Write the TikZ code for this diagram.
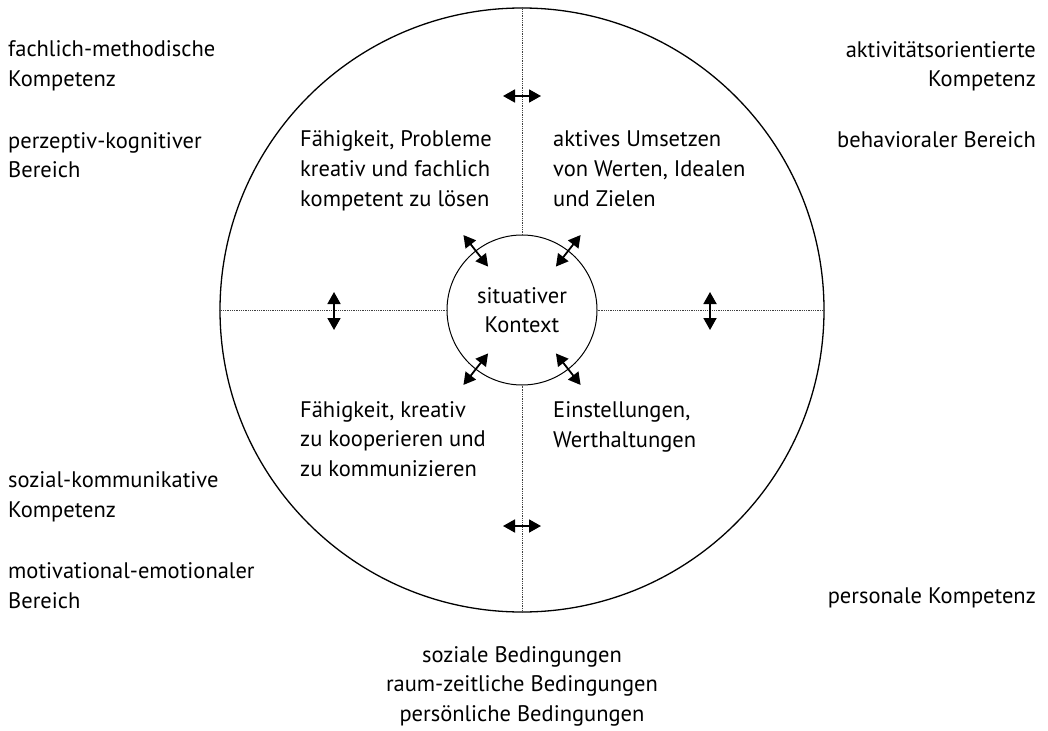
\documentclass[tikz,border=0pt]{standalone}
\usepackage{fontspec}
\setmainfont{PT Sans}
\usetikzlibrary{arrows.meta,calc}

\begin{document}
\begin{tikzpicture}
      [%%%%%%%%%%%%%%%%%%%%%%%%%%%%%%
      x=1pt,y=-1pt,
      every node/.style={font=\fontsize{22.5}{29.5}\selectfont, inner sep=0pt},
      lbl/.style={align=left, anchor=base west},
      rlbl/.style={align=right, anchor=base east},
      ring/.style={circle, draw=black},
      axis/.style={densely dotted, line width=0.8pt, black!75},
      twoway/.style={{Triangle[length=12pt,width=13pt]}-{Triangle[length=12pt,width=13pt]}, line width=1.8pt},
      ]%%%%%%%%%%%%%%%%%%%%%%%%%%%%%%

      \useasboundingbox (0,0) rectangle (1048,730);

      \node[ring, line width=1.3pt, minimum size=604pt] (rim) at (522,310){};
      \node[ring, line width=1pt, minimum size=150pt, align=center] (ctx) at (522,310){situativer\\Kontext};

      \foreach \s in {north,south,east,west}
        \draw[axis] (rim.\s) -- (ctx.\s);

      \foreach \n/\x/\y/\dx/\dy in {n/522/96/19/0, s/522/526/19/0, w/334/311/0/19, e/710/311/0/19}{
        \coordinate (\n1) at (\x-\dx,\y-\dy);
        \coordinate (\n2) at (\x+\dx,\y+\dy);
        \draw[twoway] (\n1) -- (\n2);
      }

      \foreach \a in {52,128,232,308}{
        \coordinate (in\a) at ($(ctx.center)!0.73!(ctx.\a)$);
        \coordinate (out\a) at ($(ctx.center)!1.26!(ctx.\a)$);
        \draw[twoway] (in\a) -- (out\a);
      }

      % base = last line
      \node[lbl] (fm) at (8,86.5){fachlich-methodische\\Kompetenz};
      \node[lbl] (pk) at (8,178){perzeptiv-kognitiver\\Bereich};
      \node[lbl] (sk) at (8,517){sozial-kommunikative\\Kompetenz};
      \node[lbl] (me) at (8,608){motivational-emotionaler\\Bereich};

      \node[rlbl] (ak) at (1036,87){aktivitätsorientierte\\Kompetenz};
      \node[rlbl] (bb) at (1036,148){behavioraler Bereich};
      \node[rlbl] (pe) at (1036,603){personale Kompetenz};

      \node[lbl] (q1) at (300,206){Fähigkeit, Probleme\\kreativ und fachlich\\kompetent zu lösen};
      \node[lbl] (q2) at (553,206){aktives Umsetzen\\von Werten, Idealen\\und Zielen};
      \node[lbl] (q3) at (300,476){Fähigkeit, kreativ\\zu kooperieren und\\zu kommunizieren};
      \node[lbl] (q4) at (553,447){Einstellungen,\\Werthaltungen};

      \node[align=center, anchor=base] (bed) at (522,721){soziale Bedingungen\\raum-zeitliche Bedingungen\\persönliche Bedingungen};
    \end{tikzpicture}
\end{document}
